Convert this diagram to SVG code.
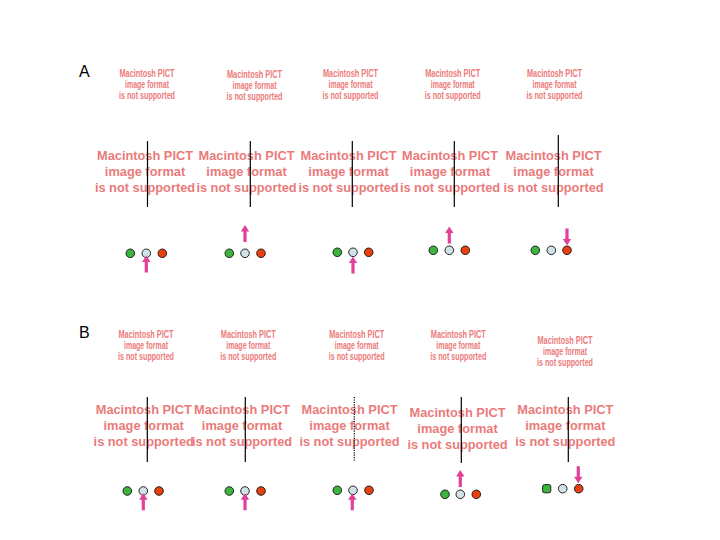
<svg xmlns="http://www.w3.org/2000/svg" xmlns:xlink="http://www.w3.org/1999/xlink" width="720" height="540" viewBox="0 0 720 540">
<style>
.lbl{font-family:"Liberation Sans",Arial,sans-serif;font-size:16px;fill:#000}
.sm{font-family:"Liberation Sans",Arial,sans-serif;font-weight:bold;font-size:10px;fill:#ec7a7a;text-anchor:middle}
.bg{font-family:"Liberation Sans",Arial,sans-serif;font-weight:bold;font-size:12.8px;fill:#ea7b7b;text-anchor:middle}
.vl{stroke:#000;stroke-width:1.2}
.dl{stroke:#000;stroke-width:1.2;stroke-dasharray:1.2 1.2}
.g{fill:#3db43d;stroke:#111;stroke-width:0.9}
.b{fill:#cfe2e8;stroke:#111;stroke-width:0.9}
.r{fill:#e8400f;stroke:#111;stroke-width:0.9}
.ar{fill:#e2409a}
</style>
<defs>
<path id="up" class="ar" d="M0,0 L4.2,6.5 L1.6,6.5 L1.6,17 L-1.6,17 L-1.6,6.5 L-4.2,6.5 Z"/>
<g id="st">
<text y="0" textLength="55" lengthAdjust="spacingAndGlyphs">Macintosh PICT</text>
<text y="11" textLength="44" lengthAdjust="spacingAndGlyphs">image format</text>
<text y="22" textLength="56" lengthAdjust="spacingAndGlyphs">is not supported</text>
</g>
<g id="bt">
<text y="0">Macintosh PICT</text>
<text y="16">image format</text>
<text y="31.5">is not supported</text>
</g>
</defs>
<rect width="720" height="540" fill="#fff"/>
<text class="lbl" x="79" y="77">A</text>
<text class="lbl" x="79" y="338">B</text>

<g id="A1">
<use xlink:href="#st" class="sm" x="147" y="77"/>
<use xlink:href="#bt" class="bg" x="145" y="160"/>
<line class="vl" x1="147.5" y1="141" x2="147.5" y2="207"/>
<circle class="g" cx="130.3" cy="253.3" r="4.3"/>
<circle class="b" cx="146.3" cy="253.3" r="4.3"/>
<circle class="r" cx="162.3" cy="253.3" r="4.3"/>
</g>
<g id="A2">
<use xlink:href="#st" class="sm" x="254.5" y="78"/>
<use xlink:href="#bt" class="bg" x="246.5" y="160"/>
<line class="vl" x1="250.3" y1="141" x2="250.3" y2="207"/>
<circle class="g" cx="229.3" cy="253.3" r="4.3"/>
<circle class="b" cx="245" cy="253.3" r="4.3"/>
<circle class="r" cx="261" cy="253.3" r="4.3"/>
</g>
<g id="A3">
<use xlink:href="#st" class="sm" x="350.5" y="76.5"/>
<use xlink:href="#bt" class="bg" x="348.5" y="160"/>
<line class="vl" x1="352.3" y1="141" x2="352.3" y2="207"/>
<circle class="g" cx="337.3" cy="252.3" r="4.3"/>
<circle class="b" cx="353" cy="252.3" r="4.3"/>
<circle class="r" cx="368.7" cy="252.3" r="4.3"/>
</g>
<g id="A4">
<use xlink:href="#st" class="sm" x="452.7" y="76.5"/>
<use xlink:href="#bt" class="bg" x="450" y="160"/>
<line class="vl" x1="454.3" y1="141" x2="454.3" y2="207"/>
<circle class="g" cx="433.3" cy="250.3" r="4.3"/>
<circle class="b" cx="449.3" cy="250.3" r="4.3"/>
<circle class="r" cx="465.3" cy="250.3" r="4.3"/>
</g>
<g id="A5">
<use xlink:href="#st" class="sm" x="554.5" y="76.5"/>
<use xlink:href="#bt" class="bg" x="553.5" y="160"/>
<line class="vl" x1="558.3" y1="135" x2="558.3" y2="207"/>
<circle class="g" cx="535.3" cy="250.3" r="4.3"/>
<circle class="b" cx="551.3" cy="250.3" r="4.3"/>
<circle class="r" cx="567" cy="250.3" r="4.3"/>
</g>

<g id="B1">
<use xlink:href="#st" class="sm" x="146" y="338"/>
<use xlink:href="#bt" class="bg" x="143.7" y="414.3"/>
<line class="vl" x1="147.3" y1="397" x2="147.3" y2="462"/>
<circle class="g" cx="127.3" cy="491" r="4.3"/>
<circle class="b" cx="143.3" cy="491" r="4.3"/>
<circle class="r" cx="159" cy="491" r="4.3"/>
</g>
<g id="B2">
<use xlink:href="#st" class="sm" x="248.3" y="338"/>
<use xlink:href="#bt" class="bg" x="242" y="414.3"/>
<line class="vl" x1="245.3" y1="397" x2="245.3" y2="462"/>
<circle class="g" cx="229.3" cy="491" r="4.3"/>
<circle class="b" cx="245" cy="491" r="4.3"/>
<circle class="r" cx="261" cy="491" r="4.3"/>
</g>
<g id="B3">
<use xlink:href="#st" class="sm" x="356.7" y="338"/>
<use xlink:href="#bt" class="bg" x="349.5" y="414.3"/>
<line class="dl" x1="354.3" y1="397" x2="354.3" y2="461"/>
<circle class="g" cx="337.3" cy="490.3" r="4.3"/>
<circle class="b" cx="353" cy="490.3" r="4.3"/>
<circle class="r" cx="369" cy="490.3" r="4.3"/>
</g>
<g id="B4">
<use xlink:href="#st" class="sm" x="458.3" y="338"/>
<use xlink:href="#bt" class="bg" x="457.5" y="417"/>
<line class="vl" x1="461.3" y1="397" x2="461.3" y2="463"/>
<circle class="g" cx="445" cy="494.3" r="4.3"/>
<circle class="b" cx="460.3" cy="494.3" r="4.3"/>
<circle class="r" cx="476.3" cy="494.3" r="4.3"/>
</g>
<g id="B5">
<use xlink:href="#st" class="sm" x="565" y="344"/>
<use xlink:href="#bt" class="bg" x="565.3" y="414.3"/>
<line class="vl" x1="568.3" y1="397" x2="568.3" y2="462"/>
<rect class="g" x="542.6" y="484.6" width="8.2" height="8.2" rx="2"/>
<circle class="b" cx="562.7" cy="488.7" r="4.3"/>
<circle class="r" cx="578.7" cy="488.7" r="4.3"/>
</g>

<g id="connectors">
<use xlink:href="#up" x="146.3" y="255.5"/>
<use xlink:href="#up" x="245" y="225"/>
<use xlink:href="#up" x="353" y="256.5"/>
<use xlink:href="#up" x="449.3" y="226.5"/>
<use xlink:href="#up" transform="translate(567,245.5) rotate(180)"/>
<use xlink:href="#up" x="143.3" y="493.3"/>
<use xlink:href="#up" x="245" y="493.3"/>
<use xlink:href="#up" x="352.3" y="493.3"/>
<use xlink:href="#up" x="460.3" y="470"/>
<use xlink:href="#up" transform="translate(578.3,483.3) rotate(180)"/>
</g>
</svg>
